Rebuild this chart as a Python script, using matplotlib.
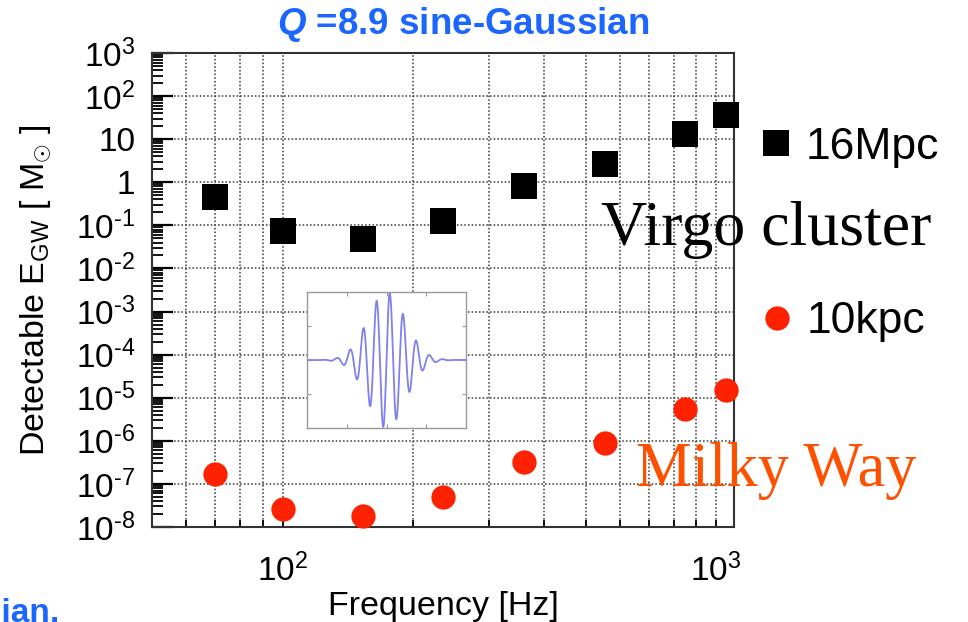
import numpy as np
import matplotlib
matplotlib.use("Agg")
import matplotlib.pyplot as plt
from matplotlib.ticker import FixedLocator, LogLocator, NullFormatter, FuncFormatter

plt.rcParams["font.family"] = ["Liberation Sans", "DejaVu Sans"]
plt.rcParams["mathtext.fontset"] = "custom"
plt.rcParams["mathtext.rm"] = "Liberation Sans"
plt.rcParams["mathtext.it"] = "Liberation Sans:italic"
plt.rcParams["mathtext.bf"] = "Liberation Sans:bold"
plt.rcParams["mathtext.bfit"] = "Liberation Sans:italic:bold"

# Sine-Gaussian central frequencies [Hz]
freq_hz = [70, 100, 153, 235, 361, 554, 849, 1053]
# Detectable GW energy [solar masses] for a source at 16 Mpc (Virgo cluster)
egw_16mpc = [0.45, 0.074, 0.049, 0.128, 0.80, 2.7, 13.5, 37.0]
# Detectable GW energy [solar masses] for a source at 10 kpc (Milky Way)
egw_10kpc = [1.7e-7, 2.6e-8, 1.8e-8, 4.9e-8, 3.2e-7, 8.9e-7, 5.4e-6, 1.5e-5]

x_tick_values = [100, 1000]
x_tick_labels = [r"$10^{2}$", r"$10^{3}$"]
y_decades = list(range(-8, 4))

quality_factor = 8.9

BLUE = "#1a66ff"
RED = "#ff2200"
ORANGE = "#ff5000"

W, H = 968, 622
fig = plt.figure(figsize=(W / 100, H / 100), dpi=100)


def fx(px):
    return px / W


def fy(py):
    return 1 - py / H


ax = fig.add_axes([fx(152), fy(527), fx(734) - fx(152), fy(53) - fy(527)])
ax.set_xscale("log")
ax.set_yscale("log")
ax.set_xlim(50, 1100)
ax.set_ylim(1e-8, 1e3)

# grid: dotted verticals at every x tick, dotted horizontals at each decade
grid_kw = dict(color="#444444", linestyle=(0, (1, 1.3)), linewidth=1.15)
ax.xaxis.grid(True, which="both", **grid_kw)
ax.yaxis.grid(True, which="major", **grid_kw)
ax.set_axisbelow(True)

sq, = ax.plot(freq_hz, egw_16mpc, "s", ms=18.5, color="black", mew=0,
              clip_on=False, zorder=4)
dot, = ax.plot(freq_hz, egw_10kpc, "o", ms=17.5, color=RED, mew=0,
               clip_on=False, zorder=4)

# y axis: every decade labelled, dense minor ticks
ax.yaxis.set_major_locator(FixedLocator([10.0 ** d for d in y_decades]))
ax.yaxis.set_minor_locator(LogLocator(base=10, subs=np.arange(2, 10), numticks=100))
ax.yaxis.set_minor_formatter(NullFormatter())


def ylab(v, pos):
    e = int(round(np.log10(v)))
    if e == 0:
        return "1"
    if e == 1:
        return "10"
    if e < 0:
        return r"$10^{\text{-}%d}$" % (-e)
    return r"$10^{%d}$" % e


ax.yaxis.set_major_formatter(FuncFormatter(ylab))

ax.xaxis.set_major_locator(FixedLocator(x_tick_values))
ax.set_xticklabels(x_tick_labels)
ax.xaxis.set_minor_locator(LogLocator(base=10, subs=np.arange(2, 10), numticks=100))
ax.xaxis.set_minor_formatter(NullFormatter())

ax.tick_params(axis="y", which="major", direction="in", length=15, width=1.6,
               left=True, right=False, labelsize=24, pad=12)
ax.tick_params(axis="y", which="minor", direction="in", length=8, width=1.3,
               left=True, right=False)
ax.tick_params(axis="x", which="both", direction="in", length=5, width=1.3,
               top=False, bottom=True, labelsize=24, pad=19)

for s in ax.spines.values():
    s.set_linewidth(1.5)
    s.set_color("#333333")

ax.set_xlabel("Frequency [Hz]", fontsize=24.5)
ax.xaxis.set_label_coords(0.5, -0.135)
ax.set_ylabel(r"Detectable E$_{\mathrm{GW}}$ [ M$_{\odot}$ ]", fontsize=24.5)
ax.yaxis.set_label_coords(-0.168, 0.5)

fig.text(fx(463), fy(24), r"$\mathbfit{Q}$ =8.9 sine-Gaussian", color=BLUE,
         fontsize=26.5, fontweight="bold", ha="center", va="center")
fig.text(fx(60), fy(598), "Gaussian,", color=BLUE, fontsize=24,
         fontweight="bold", ha="right", va="top")

# legend entries placed beside the frame
leg_kw = dict(loc="center left", frameon=False, fontsize=32, handlelength=0.6,
              handletextpad=0.35, borderpad=0, borderaxespad=0, numpoints=1)
fig.legend([sq], ["16Mpc"], bbox_to_anchor=(fx(763), fy(147)), **leg_kw)
fig.legend([dot], ["10kpc"], bbox_to_anchor=(fx(764), fy(322)), **leg_kw)

fig.text(fx(601), fy(245), "Virgo cluster", family="Liberation Serif",
         fontsize=46, color="black", ha="left", va="baseline")
fig.text(fx(636), fy(486), "Milky Way", family="Liberation Serif",
         fontsize=45, color=ORANGE, ha="left", va="baseline")

# inset: sine-Gaussian waveform with the given Q
t = np.linspace(-6, 6, 801)
tau = quality_factor / (np.sqrt(2) * np.pi)
h = np.sin(2 * np.pi * t) * np.exp(-(t / tau) ** 2)

ins = fig.add_axes([fx(307), fy(428), fx(466) - fx(307), fy(292) - fy(428)])
ins.plot(t, h, color="#8080ee", lw=1.3)
ins.set_xlim(-6, 6)
ins.set_ylim(-1.0, 1.0)
ins.set_xticks([-3, 0, 3])
ins.set_yticks([-0.5, 0, 0.5])
ins.set_xticklabels([])
ins.set_yticklabels([])
ins.tick_params(direction="in", length=3, width=0.8, color="#999999",
                top=True, right=True)
for s in ins.spines.values():
    s.set_color("#999999")
    s.set_linewidth(1.0)

fig.savefig("out.png", dpi=100)
